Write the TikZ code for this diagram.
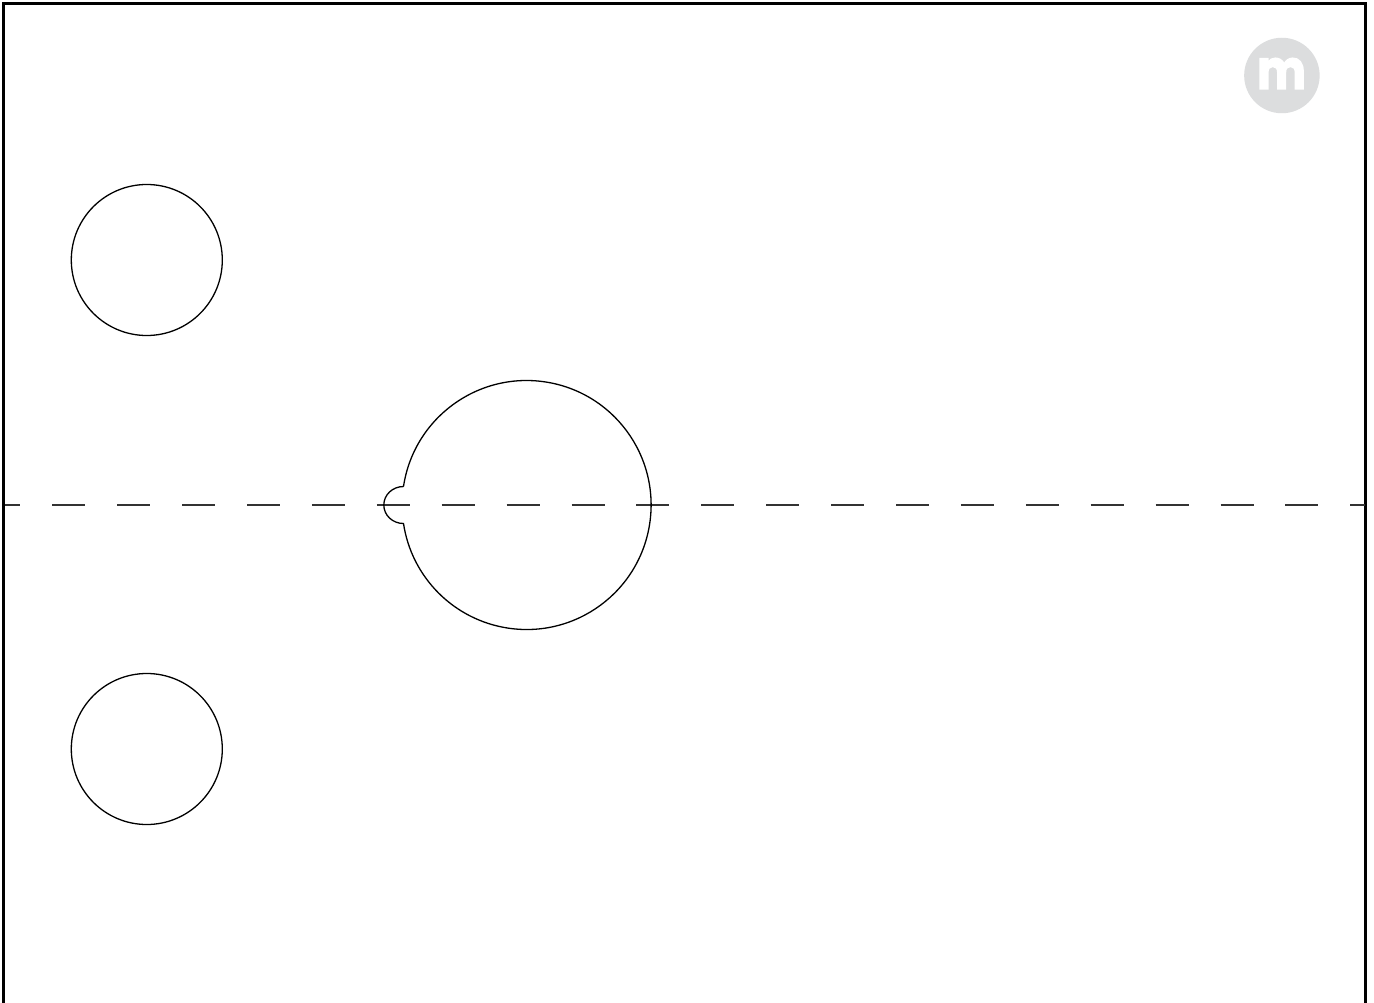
\documentclass[tikz,border=0pt]{standalone}
\usepackage{fontspec}
\newfontfamily\logofont{Poppins}[BoldFont={* Bold},BoldFeatures={FakeBold=3}]
\definecolor{logogrey}{HTML}{DCDDDE}
\tikzset{
  outline/.style={draw=black,line width=1.3pt},
  ringnode/.style={circle,outline,minimum size=151pt,inner sep=0pt},
  frame/.style={draw=black,line width=3pt},
  axisline/.style={draw=black!80,line width=1.5pt},
  logodisc/.style={circle,fill=logogrey,minimum size=75.5pt,inner sep=0pt},
  logotext/.style={text=white,inner sep=0pt,font=\logofont\bfseries\fontsize{54}{54}\selectfont}
}
\begin{document}
\begin{tikzpicture}[x=1pt,y=-1pt]
\useasboundingbox (0,0) rectangle (1374,1003);
\fill[white] (0,0) rectangle (1374,1003);
\begin{scope}
\clip (0,0) rectangle (1374,1003);
\draw[frame] (3.7,1020) -- (3.7,3.7) -- (1365.3,3.7) -- (1365.3,1020);
\end{scope}
\coordinate (axisL) at (19.3,505);
\coordinate (axisR) at (1365,505);
\draw[axisline] (5,505) -- (axisL);
\draw[axisline,dash pattern=on 33pt off 31.9pt,dash phase=31.9pt] (axisL) -- (axisR);
\node[ringnode] (upper) at (146.8,260) {};
\node[ringnode] (lower) at (146.8,749) {};
\draw[outline] (403.5,486.5)
  arc[start angle=171.45,end angle=-171.45,x radius=124.5,y radius=-124.5]
  arc[start angle=-90,end angle=-270,x radius=19.7,y radius=-18.5];
\node[logodisc] (logo) at (1281.9,75.5) {};
\node[logotext,xscale=0.85] (logom) at (1281.5,73.5) {m};
\end{tikzpicture}
\end{document}
